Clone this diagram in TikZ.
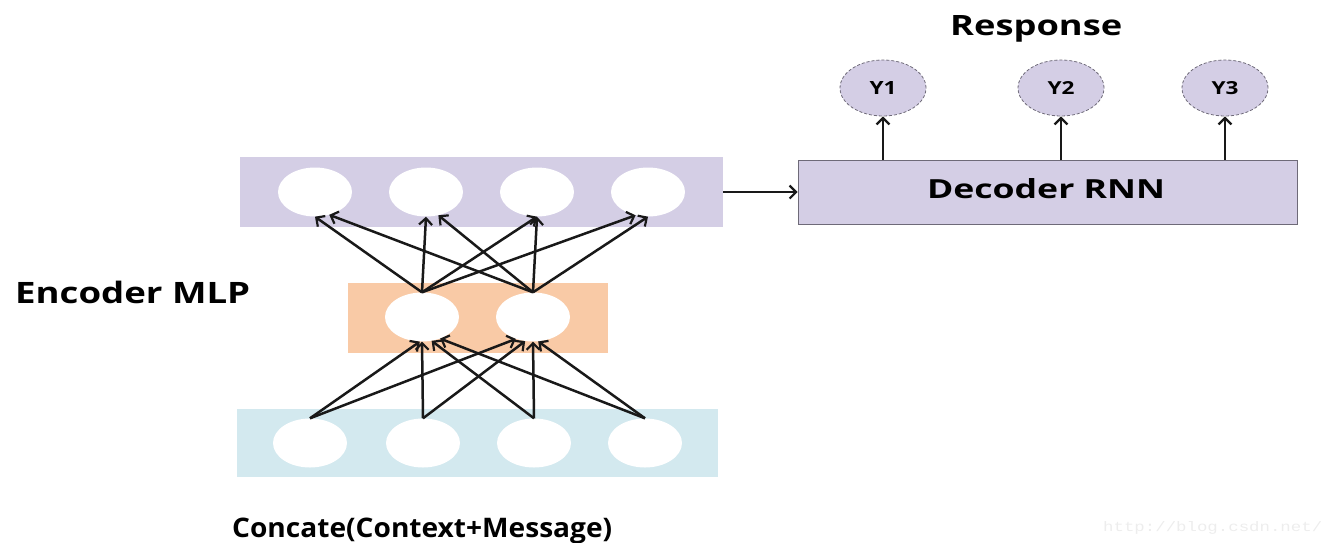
\documentclass[tikz,border=0pt]{standalone}
\usepackage{fontspec}
\setmainfont{Open Sans}
\setmonofont{Liberation Mono}
\usetikzlibrary{arrows.meta,shapes.geometric}

\definecolor{lav}{HTML}{D4CEE5}
\definecolor{peach}{HTML}{F9CAA6}
\definecolor{sky}{HTML}{D3E9EF}
\definecolor{rim}{HTML}{6E6A78}

% bold text stretched to a given width and height (in pt)
\newcommand\fitlbl[3]{\resizebox{#1pt}{#2pt}{\bfseries #3}}

\begin{document}
\begin{tikzpicture}[x=1pt,y=-1pt,
  band/.style={rectangle, draw=none, inner sep=0pt},
  neuron/.style={ellipse, fill=white, draw=none, inner sep=0pt,
                 minimum width=74pt, minimum height=49pt},
  outnode/.style={ellipse, fill=lav, draw=rim, densely dashed, line width=0.8pt,
                  inner sep=0pt, minimum width=86pt, minimum height=56pt},
  net/.style={-{Straight Barb[length=6.5pt,width=13pt,line width=2.2pt]},
              line width=2.5pt, black!90},
  lbl/.style={inner sep=0pt, anchor=base west}]
\useasboundingbox (0,0) rectangle (1326,542);

% layer bands
\node[band, fill=lav,   minimum width=483pt, minimum height=70pt] (top) at (481.5,192) {};
\node[band, fill=peach, minimum width=260pt, minimum height=70pt] (mid) at (478,318) {};
\node[band, fill=sky,   minimum width=481pt, minimum height=68pt] (bot) at (477.5,443) {};

% neurons
\foreach \i/\x in {1/315,2/426,3/537,4/648}
  \node[neuron] (p\i) at (\x,192) {};
\node[neuron] (o1) at (422,317) {};
\node[neuron] (o2) at (533,317) {};
\foreach \i/\x in {1/310,2/423,3/534,4/645}
  \node[neuron] (b\i) at (\x,443) {};

% input layer -> hidden layer
\draw[net] (b1.north) -- (o1.-95);
\draw[net] (b1.north) -- (o2.-128);
\draw[net] (b2.north) -- (o1.south);
\draw[net] (b2.north) -- (o2.-108);
\draw[net] (b3.north) -- (o1.-68);
\draw[net] (b3.north) -- (o2.south);
\draw[net] (b4.north) -- (o1.-50);
\draw[net] (b4.north) -- (o2.-78);

% hidden layer -> encoding layer
\draw[net] (o1.north) -- (p1.south);
\draw[net] (o1.north) -- (p2.south);
\draw[net] (o1.north) -- (p3.south);
\draw[net] (o1.north) -- (p4.-118);
\draw[net] (o2.north) -- (p1.-58);
\draw[net] (o2.north) -- (p2.-62);
\draw[net] (o2.north) -- (p3.south);
\draw[net] (o2.north) -- (p4.south);

% decoder
\node[rectangle, fill=lav, draw=rim, line width=0.8pt, inner sep=0pt,
      minimum width=499pt, minimum height=64pt] (dec) at (1047.5,192) {};
\node[inner sep=0pt, anchor=base] (dectxt) at (1046,198) {\fitlbl{238}{20}{Decoder RNN}};
\draw[net, line width=2pt] (top.east) -- (dec.west);

% outputs
\node[outnode] (y1) at (883,88)  {\fitlbl{27}{13}{Y1}};
\node[outnode] (y2) at (1061,88) {\fitlbl{27}{13}{Y2}};
\node[outnode] (y3) at (1225,88) {\fitlbl{27}{13}{Y3}};
\foreach \k in {1,2,3}
  \draw[net] (dec.north -| y\k) -- (y\k.south);

% captions
\node[lbl] (resp) at (950,35)  {\fitlbl{172}{20}{Response}};
\node[lbl] (encl) at (15,303)  {\fitlbl{235}{22.4}{Encoder MLP}};
\node[lbl] (conc) at (232,537)
  {\fitlbl{380}{19.5}{Concate\smash{(}Context+Message\smash{)}}};
\node[lbl, text=gray!14] (mark) at (1103,531)
  {\resizebox{219pt}{10pt}{\ttfamily http://blog.csdn.net/}};
\end{tikzpicture}
\end{document}
